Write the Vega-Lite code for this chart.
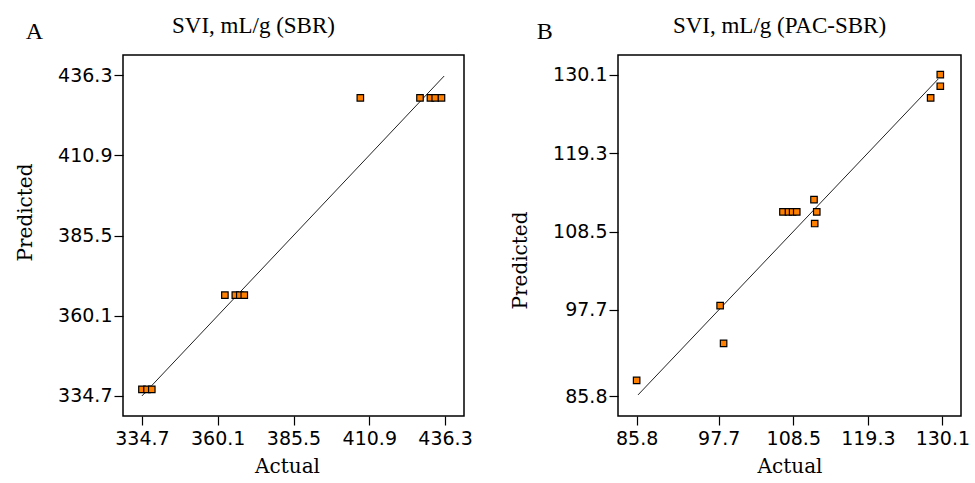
{
  "$schema": "https://vega.github.io/schema/vega-lite/v6.json",
  "background": "white",
  "padding": {"left": 14, "top": 14, "right": 5, "bottom": 0},
  "spacing": 35,
  "config": {
    "view": {"stroke": "#000", "strokeWidth": 1.5},
    "axis": {
      "domain": false, "grid": false, "tickColor": "#000", "tickSize": 9, "tickWidth": 1.2,
      "labelFont": "DejaVu Sans", "labelFontSize": 19, "labelColor": "#000", "labelPadding": 2,
      "titleFont": "DejaVu Serif", "titleFontSize": 20, "titleFontWeight": "normal", "titleColor": "#000"
    },
    "axisX": {"labelPadding": 4},
    "title": {"font": "Liberation Serif", "fontSize": 23, "fontWeight": "normal", "color": "#000"},
    "concat": {"spacing": 0}
  },
  "datasets": {
    "sbr": [
      {"actual": 407.9, "predicted": 429.1},
      {"actual": 427.9, "predicted": 429.1},
      {"actual": 431.4, "predicted": 429.1},
      {"actual": 433.0, "predicted": 429.1},
      {"actual": 435.1, "predicted": 429.1},
      {"actual": 362.5, "predicted": 366.6},
      {"actual": 366.0, "predicted": 366.6},
      {"actual": 367.5, "predicted": 366.6},
      {"actual": 369.0, "predicted": 366.6},
      {"actual": 334.7, "predicted": 336.8},
      {"actual": 336.4, "predicted": 336.8},
      {"actual": 338.0, "predicted": 336.8}
    ],
    "sbrline": [{"actual": 334.7, "predicted": 334.7}, {"actual": 436.0, "predicted": 436.0}],
    "pac": [
      {"actual": 129.8, "predicted": 130.1},
      {"actual": 129.8, "predicted": 128.5},
      {"actual": 128.4, "predicted": 126.9},
      {"actual": 111.5, "predicted": 112.9},
      {"actual": 111.9, "predicted": 111.2},
      {"actual": 111.6, "predicted": 109.6},
      {"actual": 107.0, "predicted": 111.2},
      {"actual": 107.8, "predicted": 111.2},
      {"actual": 108.4, "predicted": 111.2},
      {"actual": 109.0, "predicted": 111.2},
      {"actual": 97.9, "predicted": 98.3},
      {"actual": 98.4, "predicted": 93.1},
      {"actual": 85.8, "predicted": 88.0}
    ],
    "pacline": [{"actual": 86.0, "predicted": 86.0}, {"actual": 129.5, "predicted": 129.5}]
  },
  "hconcat": [
    {
      "title": {"text": "A", "anchor": "start", "frame": "bounds", "fontSize": 24, "dx": 11, "offset": -30},
      "vconcat": [
        {
          "width": 341, "height": 361,
          "title": {"text": "SVI, mL/g (SBR)", "anchor": "middle", "frame": "group", "dx": -40, "offset": 17},
          "layer": [
            {
              "data": {"name": "sbrline"},
              "mark": {"type": "line", "color": "#222", "strokeWidth": 1},
              "encoding": {
                "x": {"field": "actual", "type": "quantitative", "scale": {"domain": [328.35, 442.65], "zero": false, "nice": false},
                      "axis": {"values": [334.7, 360.1, 385.5, 410.9, 436.3], "format": ".1f", "title": "Actual", "titlePadding": 8, "titleX": 164}},
                "y": {"field": "predicted", "type": "quantitative", "scale": {"domain": [328.35, 442.65], "zero": false, "nice": false},
                      "axis": {"values": [334.7, 360.1, 385.5, 410.9, 436.3], "format": ".1f", "title": "Predicted", "titlePadding": 22, "titleY": 157}}
              }
            },
            {
              "data": {"name": "sbr"},
              "mark": {"type": "point", "shape": "square", "filled": true, "size": 42, "color": "#FF8000", "stroke": "#000", "strokeWidth": 1.2, "opacity": 1},
              "encoding": {
                "x": {"field": "actual", "type": "quantitative"},
                "y": {"field": "predicted", "type": "quantitative"}
              }
            }
          ]
        }
      ]
    },
    {
      "title": {"text": "B", "anchor": "start", "frame": "bounds", "fontSize": 24, "dx": 27, "offset": -30},
      "vconcat": [
        {
          "width": 343, "height": 361,
          "title": {"text": "SVI, mL/g (PAC-SBR)", "anchor": "middle", "frame": "group", "dx": -10, "offset": 17},
          "layer": [
            {
              "data": {"name": "pacline"},
              "mark": {"type": "line", "color": "#222", "strokeWidth": 1},
              "encoding": {
                "x": {"field": "actual", "type": "quantitative", "scale": {"domain": [83.1, 132.8], "zero": false, "nice": false},
                      "axis": {"values": [85.8, 97.7, 108.5, 119.3, 130.1], "format": ".1f", "title": "Actual", "titlePadding": 8}},
                "y": {"field": "predicted", "type": "quantitative", "scale": {"domain": [83.1, 132.8], "zero": false, "nice": false},
                      "axis": {"values": [85.8, 97.7, 108.5, 119.3, 130.1], "format": ".1f", "title": "Predicted", "titlePadding": 22, "titleY": 205}}
              }
            },
            {
              "data": {"name": "pac"},
              "mark": {"type": "point", "shape": "square", "filled": true, "size": 42, "color": "#FF8000", "stroke": "#000", "strokeWidth": 1.2, "opacity": 1},
              "encoding": {
                "x": {"field": "actual", "type": "quantitative"},
                "y": {"field": "predicted", "type": "quantitative"}
              }
            }
          ]
        }
      ]
    }
  ]
}
